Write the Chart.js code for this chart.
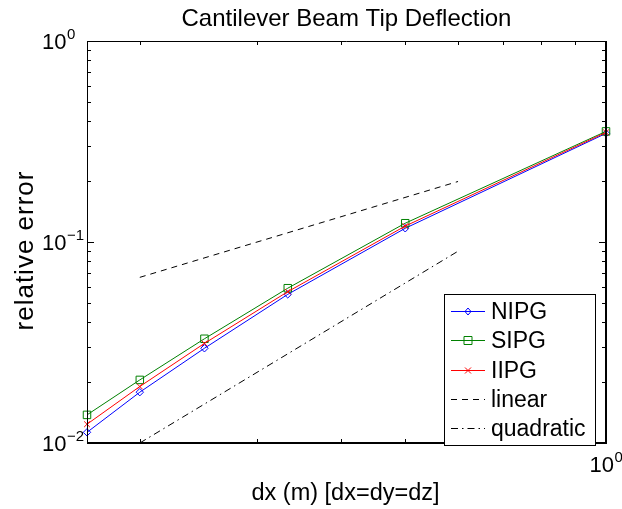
<!DOCTYPE html>
<html>
<head>
<meta charset="utf-8">
<script src="https://cdn.jsdelivr.net/npm/chart.js@4"></script>
<style>
  body { margin: 0; background: #fff; }
  #box { width: 622px; height: 509px; }
</style>
</head>
<body>
<div id="box"><canvas id="grafico" width="622" height="509"></canvas></div>
<script>
// mesh spacing (m)
const dx = [1/6, 1/5, 1/4, 1/3, 1/2, 1];
// relative tip deflection error per method
const nipg = [0.0113, 0.0179, 0.0296, 0.0549, 0.117, 0.347];
const sipg = [0.0138, 0.0206, 0.0330, 0.0589, 0.124, 0.355];
const iipg = [0.0124, 0.0191, 0.0313, 0.0566, 0.120, 0.351];
// reference slopes
const refX = [0.2, 0.6];
const linearY = [0.0667, 0.2];
const quadY = [0.01, 0.09];

const xMinor = [0.2, 0.3, 0.4, 0.5, 0.6, 0.7, 0.8, 0.9];
const xMajor = [1];
const yMajor = [0.01, 0.1, 1];
const yExp = ['\u22122', '\u22121', '0'];

const FONT = '"Liberation Sans", Arial, Helvetica, sans-serif';

function pares(xs, ys) {
    return xs.map((v, i) => ({ x: v, y: ys[i] }));
}

const legendItems = [
    { label: 'NIPG', color: '#0000ff', marker: 'diamond', dash: [] },
    { label: 'SIPG', color: '#008000', marker: 'square', dash: [] },
    { label: 'IIPG', color: '#ff0000', marker: 'cross', dash: [] },
    { label: 'linear', color: '#000000', marker: null, dash: [6, 5] },
    { label: 'quadratic', color: '#000000', marker: null, dash: [7, 4, 1.5, 4] },
];

function marcador(ctx, tipo, cx, cy, cor) {
    ctx.save();
    ctx.strokeStyle = cor;
    ctx.lineWidth = 1;
    ctx.setLineDash([]);
    ctx.beginPath();
    if (tipo === 'diamond') {
        ctx.moveTo(cx, cy - 3.5); ctx.lineTo(cx + 3, cy); ctx.lineTo(cx, cy + 3.5); ctx.lineTo(cx - 3, cy); ctx.closePath();
    } else if (tipo === 'square') {
        ctx.rect(cx - 4, cy - 4, 8, 8);
    } else if (tipo === 'cross') {
        ctx.moveTo(cx - 3, cy - 3); ctx.lineTo(cx + 3, cy + 3);
        ctx.moveTo(cx + 3, cy - 3); ctx.lineTo(cx - 3, cy + 3);
    }
    ctx.stroke();
    ctx.restore();
}

const decoracao = {
    id: 'decoracao',
    afterDraw(chart) {
        const { ctx, chartArea: a, scales: { x, y } } = chart;
        ctx.save();

        // ticks pointing inward on all four sides
        ctx.strokeStyle = '#000';
        ctx.lineWidth = 1;
        ctx.beginPath();
        const tickX = (v, len) => {
            const p = Math.round(x.getPixelForValue(v)) + 0.5;
            ctx.moveTo(p, a.bottom); ctx.lineTo(p, a.bottom - len);
            ctx.moveTo(p, a.top); ctx.lineTo(p, a.top + len);
        };
        const tickY = (v, len) => {
            const p = Math.round(y.getPixelForValue(v)) + 0.5;
            ctx.moveTo(a.left, p); ctx.lineTo(a.left + len, p);
            ctx.moveTo(a.right, p); ctx.lineTo(a.right - len, p);
        };
        xMinor.forEach(v => tickX(v, 4));
        xMajor.forEach(v => tickX(v, 7));
        [0.01, 0.1].forEach(dec => {
            for (let m = 2; m <= 9; m++) tickY(dec * m, 4);
        });
        yMajor.forEach(v => tickY(v, 7));
        ctx.stroke();

        // axes box
        ctx.beginPath();
        ctx.moveTo(a.left + 0.5, a.bottom); ctx.lineTo(a.left + 0.5, a.top + 0.5); ctx.lineTo(a.right, a.top + 0.5);
        ctx.stroke();
        ctx.lineWidth = 2;
        ctx.beginPath();
        ctx.moveTo(a.left, a.bottom); ctx.lineTo(a.right, a.bottom); ctx.lineTo(a.right, a.top);
        ctx.stroke();

        // tick labels
        ctx.fillStyle = '#000';
        ctx.textBaseline = 'alphabetic';
        ctx.textAlign = 'left';
        yMajor.forEach((v, i) => {
            const p = y.getPixelForValue(v);
            ctx.font = '22px ' + FONT;
            ctx.fillText('10', 42, p + 8);
            const w = ctx.measureText('10').width;
            ctx.font = '15px ' + FONT;
            ctx.fillText(yExp[i], 42 + w + 0.5, p - 2);
        });
        xMajor.forEach(v => {
            const p = x.getPixelForValue(v);
            ctx.font = '22px ' + FONT;
            const w = ctx.measureText('10').width;
            ctx.font = '15px ' + FONT;
            const we = ctx.measureText('0').width;
            const x0 = p - (w + we) / 2;
            ctx.font = '22px ' + FONT;
            ctx.fillText('10', x0, a.bottom + 29);
            ctx.font = '15px ' + FONT;
            ctx.fillText('0', x0 + w + 0.5, a.bottom + 19);
        });

        // title and axis labels
        const cx = (a.left + a.right) / 2;
        ctx.textAlign = 'center';
        ctx.font = '24px ' + FONT;
        ctx.fillText('Cantilever Beam Tip Deflection', cx, 26);
        ctx.font = '23.5px ' + FONT;
        ctx.fillText('dx (m) [dx=dy=dz]', cx - 1, 500);
        ctx.save();
        ctx.translate(33, 251);
        ctx.rotate(-Math.PI / 2);
        ctx.font = '26px ' + FONT;
        ctx.letterSpacing = '1px';
        ctx.fillText('relative error', 0.5, 0);
        ctx.restore();

        // legend box
        const lx = 444, ly = 294, lw = 151, lh = 151;
        ctx.fillStyle = '#fff';
        ctx.fillRect(lx, ly, lw, lh);
        ctx.lineWidth = 1;
        ctx.strokeStyle = '#000';
        ctx.strokeRect(lx + 0.5, ly + 0.5, lw, lh);
        ctx.textAlign = 'left';
        ctx.font = '23px ' + FONT;
        legendItems.forEach((it, i) => {
            const yy = 311 + i * 29.3;
            ctx.strokeStyle = it.color;
            ctx.setLineDash(it.dash);
            ctx.beginPath();
            ctx.moveTo(451, Math.round(yy) + 0.5);
            ctx.lineTo(485, Math.round(yy) + 0.5);
            ctx.stroke();
            ctx.setLineDash([]);
            if (it.marker) marcador(ctx, it.marker, 468, Math.round(yy) + 0.5, it.color);
            ctx.fillStyle = '#000';
            ctx.fillText(it.label, 491, yy + 8);
        });

        ctx.restore();
    }
};

const contexto = document.getElementById('grafico').getContext('2d');
new Chart(contexto, {
    type: 'scatter',
    data: {
        datasets: [
            {
                label: 'NIPG', data: pares(dx, nipg), showLine: true,
                borderColor: '#0000ff', borderWidth: 1, pointStyle: 'rectRot', pointRadius: 3.7,
                pointBorderColor: '#0000ff', pointBackgroundColor: 'rgba(0,0,0,0)', pointBorderWidth: 1, clip: false, order: 3,
            },
            {
                label: 'SIPG', data: pares(dx, sipg), showLine: true,
                borderColor: '#008000', borderWidth: 1, pointStyle: 'rect', pointRadius: 5.3,
                pointBorderColor: '#008000', pointBackgroundColor: 'rgba(0,0,0,0)', pointBorderWidth: 1, clip: false, order: 2,
            },
            {
                label: 'IIPG', data: pares(dx, iipg), showLine: true,
                borderColor: '#ff0000', borderWidth: 1, pointStyle: 'crossRot', pointRadius: 4,
                pointBorderColor: '#ff0000', pointBorderWidth: 1, clip: false, order: 1,
            },
            {
                label: 'linear', data: pares(refX, linearY), showLine: true,
                borderColor: '#000', borderWidth: 1, borderDash: [6, 5], pointRadius: 0, order: 4,
            },
            {
                label: 'quadratic', data: pares(refX, quadY), showLine: true,
                borderColor: '#000', borderWidth: 1, borderDash: [7, 4, 1.5, 4], pointRadius: 0, order: 5,
            },
        ],
    },
    options: {
        responsive: false,
        animation: false,
        layout: { padding: { left: 87, right: 16, top: 41, bottom: 66 } },
        plugins: { legend: { display: false }, tooltip: { enabled: false }, title: { display: false } },
        scales: {
            x: { type: 'logarithmic', min: 1/6, max: 1, display: false },
            y: { type: 'logarithmic', min: 0.01, max: 1, display: false },
        },
    },
    plugins: [decoracao],
});
</script>
</body>
</html>
